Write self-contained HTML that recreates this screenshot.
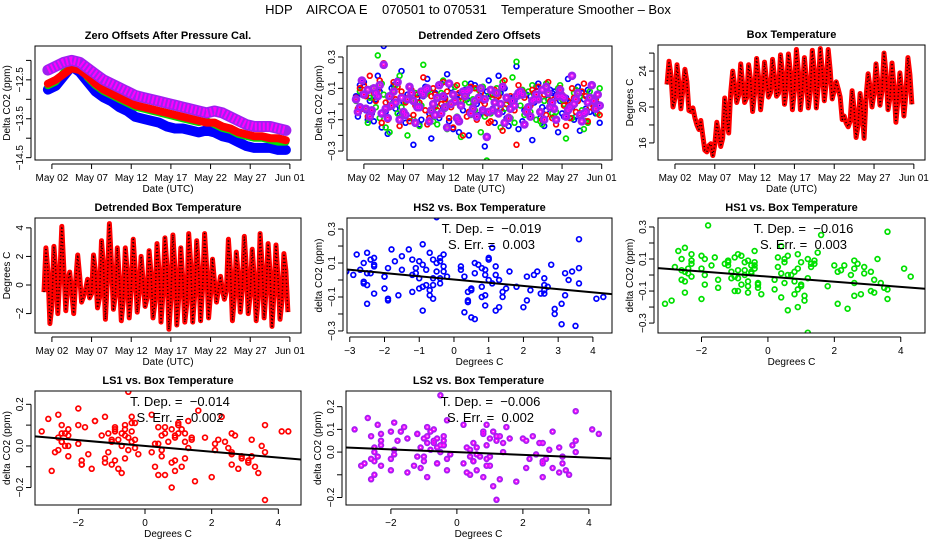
<!DOCTYPE html>
<html><head><meta charset="utf-8">
<style>
html,body{margin:0;padding:0;background:#fff;}
svg{display:block;font-family:"Liberation Sans",sans-serif;}
</style></head>
<body>
<svg id="chart" width="936" height="540" viewBox="0 0 936 540">
<rect x="0" y="0" width="936" height="540" fill="#fff"/>
<text x="468" y="14" text-anchor="middle" font-size="13" style="white-space:pre">HDP    AIRCOA E    070501 to 070531    Temperature Smoother – Box</text>
</svg>
<script>
// ---- data (sampled every 6 h from May 01 00:00 UTC) ----
const dateTickLabels = ["May 02","May 07","May 12","May 17","May 22","May 27","Jun 01"];
const dateTickDays = [1,6,11,16,21,26,31];
const dayMid = [0.5,1.5,2.5,3.5,4.5,5.5,6.5,7.5,8.5,9.5,10.5,11.5,12.5,13.5,14.5,15.5,16.5,17.5,18.5,19.5,20.5,21.5,22.5,23.5,24.5,25.5,26.5,27.5,28.5,29.5,30.5];
const zeroLS2 = [-12.25,-12.15,-12.05,-12.0,-12.05,-12.2,-12.35,-12.5,-12.6,-12.7,-12.8,-12.9,-12.95,-13.0,-13.05,-13.1,-13.15,-13.2,-13.25,-13.3,-13.35,-13.3,-13.35,-13.45,-13.55,-13.65,-13.7,-13.7,-13.7,-13.75,-13.8];
const zeroLS1 = [-12.6,-12.5,-12.35,-12.2,-12.25,-12.4,-12.6,-12.75,-12.85,-12.95,-13.05,-13.15,-13.2,-13.25,-13.3,-13.35,-13.4,-13.45,-13.5,-13.55,-13.6,-13.6,-13.7,-13.75,-13.85,-13.9,-13.95,-13.95,-14.0,-14.0,-14.05];
const zeroHS1 = [-12.65,-12.55,-12.3,-12.05,-12.15,-12.45,-12.65,-12.8,-12.9,-13.0,-13.1,-13.2,-13.25,-13.3,-13.35,-13.4,-13.45,-13.5,-13.55,-13.6,-13.55,-13.65,-13.75,-13.8,-13.9,-13.95,-14.0,-14.0,-14.05,-14.1,-14.1];
const zeroHS2 = [-12.75,-12.65,-12.4,-12.15,-12.3,-12.55,-12.8,-12.95,-13.05,-13.2,-13.3,-13.45,-13.5,-13.55,-13.6,-13.7,-13.75,-13.75,-13.8,-13.85,-13.8,-13.85,-13.95,-14.0,-14.1,-14.2,-14.25,-14.25,-14.25,-14.3,-14.3];
const boxTemp = [22.5,25.1,23.5,20.0, 21.0,24.7,22.6,19.8, 22.0,24.2,22.8,19.6, 19.5,19.9,18.8,18.0,
 17.5,18.5,16.8,15.2, 15.0,15.7,15.9,14.6, 15.8,18.3,16.9,15.6, 16.5,21.0,18.8,17.1,
 21.6,24.0,22.4,20.5, 21.3,24.8,22.6,20.5, 21.0,24.7,23.0,19.5, 21.5,25.4,23.3,19.7,
 21.8,25.0,23.0,21.1, 21.6,25.3,23.4,21.2, 21.5,25.8,23.8,20.3, 21.9,25.9,23.9,19.7,
 21.8,26.4,24.0,19.7, 21.9,25.5,23.0,19.9, 21.6,26.3,24.1,19.9, 22.3,26.5,24.0,20.7,
 22.8,26.4,24.1,20.9, 21.8,22.8,22.0,21.1, 18.6,19.0,18.2,17.8, 18.4,21.8,19.8,16.6,
 18.0,21.5,19.6,16.5, 21.2,23.7,22.2,20.0, 21.5,24.8,22.6,20.2, 21.8,26.0,23.8,19.7,
 21.0,24.9,22.4,18.3, 20.8,23.8,21.6,19.0, 21.4,25.5,23.6,20.3];
const detTemp = [-0.5,2.6,1.0,-2.7, -1.5,2.7,0.8,-2.0, 0.5,4.1,1.2,-1.8, 0.2,0.9,-0.5,-2.0,
 0.3,2.1,0.6,-1.2, -0.8,-0.3,0.4,-0.9, -0.6,2.1,0.9,-1.6, -0.9,3.1,1.3,-2.4,
 0.4,4.3,1.6,-1.7, -0.7,2.6,0.5,-2.5, -1.1,2.6,0.9,-2.3, -0.4,3.2,1.1,-1.9,
 -0.5,2.0,0.3,-1.5, -0.9,2.4,0.8,-2.3, -1.2,2.9,1.0,-2.6, -0.6,3.3,1.4,-3.1,
 -1.0,3.5,1.2,-2.8, -0.8,2.6,0.4,-2.6, -1.3,3.6,1.5,-2.6, -0.7,3.1,0.9,-2.5,
 -0.2,3.6,1.3,-2.3, -0.6,1.8,0.2,-1.2, -0.3,0.6,-0.4,-1.0, -0.4,3.2,1.1,-2.5,
 -0.9,2.3,0.7,-1.9, -0.3,3.4,1.2,-2.0, -0.7,2.5,0.6,-2.5, -1.0,3.6,1.4,-2.3,
 -0.4,2.9,0.8,-2.9, -0.6,2.8,0.5,-2.4, -1.1,2.2,1.0,-1.9];
const hs2 = [0.05,-0.08,0.12,0.06, 0.14,-0.04,-0.10,0.02, -0.06,-0.11,0.03,0.18, 0.08,-0.15,0.37,-0.05,
 -0.19,0.02,0.10,0.12, -0.03,0.15,-0.07,0.21, 0.01,-0.12,0.06,-0.09, 0.09,-0.26,0.00,0.04,
 -0.13,-0.10,0.05,0.11, 0.16,-0.06,-0.22,-0.03, 0.07,0.01,-0.09,0.13, -0.02,0.04,0.19,-0.11,
 0.10,-0.16,0.02,0.06, -0.18,0.05,-0.04,0.09, 0.03,-0.20,0.13,-0.01, 0.12,0.00,-0.07,0.05,
 -0.05,-0.27,0.08,0.15, 0.06,-0.03,-0.12,-0.02, 0.18,0.07,-0.05,0.10, -0.09,-0.14,0.03,0.04,
 0.02,0.24,-0.16,0.08, -0.11,-0.04,0.06,-0.07, 0.05,-0.23,0.01,0.11, 0.13,-0.09,-0.02,-0.14,
 -0.04,0.03,0.09,0.07, 0.08,0.05,-0.18,0.02, -0.06,-0.08,0.04,0.16, 0.01,-0.02,-0.10,-0.08,
 0.11,-0.17,0.07,0.03, -0.03,0.09,-0.05,0.12, 0.04,-0.06,0.00,-0.12];
const hs1 = [0.02,-0.05,0.08,0.15, -0.03,0.07,-0.12,0.04, 0.10,0.04,-0.02,0.31, -0.09,0.13,0.06,-0.15,
 0.05,-0.18,0.00,0.09, 0.12,-0.06,0.18,-0.02, -0.07,0.02,-0.20,0.11, 0.03,-0.10,0.07,0.01,
 -0.14,-0.01,0.25,0.06, 0.08,0.09,-0.05,-0.11, -0.02,-0.13,0.04,0.07, 0.15,-0.03,-0.16,0.00,
 0.01,0.06,0.11,-0.08, -0.10,-0.21,0.02,0.13, 0.06,0.01,-0.07,0.03, -0.04,0.10,0.09,-0.18,
 0.11,-0.08,-0.36,0.05, -0.06,0.04,0.01,0.10, 0.07,-0.15,0.14,-0.03, 0.00,0.02,-0.09,0.17,
 -0.12,0.27,0.05,-0.01, 0.09,-0.07,-0.03,0.08, -0.05,0.12,0.06,-0.10, 0.04,-0.11,-0.13,0.02,
 0.13,0.06,0.00,-0.06, -0.08,-0.05,0.10,0.12, 0.03,0.00,-0.22,-0.04, -0.01,-0.09,0.07,0.09,
 0.08,0.05,-0.04,-0.16, -0.11,-0.12,0.08,0.04, 0.02,0.03,-0.06,0.10];
const ls1 = [0.04,-0.03,0.10,-0.03, 0.12,0.05,-0.08,0.18, -0.05,0.07,0.02,0.09, 0.15,-0.12,0.26,0.01,
 -0.10,-0.02,0.06,0.14, 0.03,0.11,-0.14,0.08, -0.06,0.01,0.04,-0.11, 0.09,-0.07,-0.01,0.06,
 0.01,0.07,0.17,-0.04, -0.13,-0.09,0.05,0.10, 0.06,-0.04,-0.07,0.00, 0.14,0.03,0.08,-0.09,
 -0.02,-0.15,0.01,0.12, 0.07,0.02,-0.20,0.05, -0.08,-0.05,0.11,-0.02, 0.10,-0.10,0.03,0.07,
 0.02,0.00,-0.06,-0.12, -0.11,0.06,0.09,0.04, 0.05,-0.03,-0.17,0.15, 0.00,-0.08,0.05,0.02,
 -0.04,-0.26,0.12,0.08, 0.08,0.04,-0.03,-0.06, -0.01,0.09,0.07,0.03, 0.11,-0.05,-0.10,0.06,
 -0.07,0.14,0.02,-0.09, 0.03,-0.13,0.06,0.10, 0.06,-0.01,-0.14,0.02, -0.09,0.10,0.04,-0.05,
 0.02,-0.06,0.08,0.13, 0.05,-0.11,-0.02,0.00, -0.03,0.03,0.06,-0.07];
const ls2 = [0.03,-0.05,-0.02,0.15, 0.06,-0.03,0.09,-0.08, -0.04,0.10,0.07,0.05, 0.12,-0.06,0.25,-0.03,
 -0.09,0.05,-0.01,0.08, 0.01,0.14,-0.10,0.04, -0.05,-0.07,0.03,0.11, 0.07,0.02,-0.12,-0.02,
 -0.02,0.08,0.06,0.09, 0.10,-0.11,-0.04,0.00, -0.07,0.04,0.12,-0.06, 0.05,-0.02,-0.15,0.13,
 0.00,0.06,0.02,-0.09, -0.11,-0.01,0.08,0.05, 0.08,0.09,-0.06,-0.03, 0.02,-0.08,0.04,0.10,
 -0.04,0.03,-0.21,-0.05, 0.09,-0.04,0.01,0.07, -0.06,0.00,0.11,-0.12, 0.04,-0.09,-0.03,0.02,
 -0.01,0.05,0.07,0.08, 0.06,-0.13,-0.05,-0.02, -0.08,0.02,0.03,0.06, 0.03,-0.05,0.09,-0.10,
 0.11,0.07,-0.02,0.01, -0.03,-0.10,0.05,0.09, 0.05,0.04,-0.08,-0.04, -0.02,0.18,0.00,0.03,
 0.07,-0.07,-0.11,-0.06, -0.05,0.01,0.04,0.12, 0.02,-0.03,0.06,-0.01];
const fitSlopes = [-0.019,-0.016,-0.014,-0.006];
const fitIntercepts = [0.003,-0.010,0.000,0.000];
const fitErrors = ["0.003","0.003","0.002","0.002"];

const C_HS2="#0000ff", C_HS1="#00e000", C_LS1="#ff0000", C_LS2="#a020f0";
const svg=document.getElementById('chart');
const NS="http://www.w3.org/2000/svg";
function mk(tag,attrs,parent){const e=document.createElementNS(NS,tag);for(const k in attrs)e.setAttribute(k,attrs[k]);(parent||svg).appendChild(e);return e;}
function sampleTime(i){return i/4;}

function panel(p){
  const g=mk('g',{});
  
  
  p.sx=v=>p.L+(v-p.x0)/(p.x1-p.x0)*(p.R-p.L);
  p.sy=v=>p.B-(v-p.y0)/(p.y1-p.y0)*(p.B-p.T);
  p.g=g;
  const cp=mk('clipPath',{id:'clip-'+p.name},g);
  mk('rect',{x:p.L,y:p.T,width:p.R-p.L,height:p.B-p.T},cp);
  p.plot=mk('g',{'clip-path':'url(#clip-'+p.name+')'},g);
  return p;
}
function axes(p){
  const g=p.g;
  const box=mk('rect',{x:p.L,y:p.T,width:p.R-p.L,height:p.B-p.T,fill:'none',stroke:'#000','stroke-width':1},g);
  
  
  const t=mk('text',{x:(p.L+p.R)/2,y:p.T-7,'text-anchor':'middle','font-size':11,'font-weight':'bold'},g);
  t.textContent=p.title;
  
  
  const xa=mk('g',{},g);
  
  
  const xs=p.xticks.map(p.sx);
  mk('line',{x1:xs[0],x2:xs[xs.length-1],y1:p.B+4,y2:p.B+4,stroke:'#000'},xa);
  p.xticks.forEach((v,i)=>{const x=p.sx(v);
    mk('line',{x1:x,x2:x,y1:p.B+4,y2:p.B+9,stroke:'#000'},xa);
    if(p.xlabels[i]!==''){const tx=mk('text',{x:x,y:p.B+21,'text-anchor':'middle','font-size':10},xa);tx.textContent=p.xlabels[i];
      
      }
  });
  const xt=mk('text',{x:(p.L+p.R)/2,y:p.B+32,'text-anchor':'middle','font-size':10},xa);
  xt.textContent=p.xtitle;
  
  
  const ya=mk('g',{},g);
  
  
  const ys=p.yticks.map(p.sy);
  mk('line',{x1:p.L-4,x2:p.L-4,y1:ys[0],y2:ys[ys.length-1],stroke:'#000'},ya);
  p.yticks.forEach((v,i)=>{const y=p.sy(v);
    mk('line',{x1:p.L-9,x2:p.L-4,y1:y,y2:y,stroke:'#000'},ya);
    if(p.ylabels[i]!==''){const tx=mk('text',{x:0,y:0,'text-anchor':'middle','font-size':10,transform:`translate(${p.L-12},${y}) rotate(-90)`},ya);tx.textContent=p.ylabels[i];
      
      }
  });
  const yt=mk('text',{x:0,y:0,'text-anchor':'middle','font-size':10,transform:`translate(${p.L-25},${(p.T+p.B)/2}) rotate(-90)`},ya);
  yt.textContent=p.ytitle;
  
  
}
function dots(p,xsArr,ysArr,col,name,r,sw){
  const g=mk('g',{},p.plot);
  
  
  for(let i=0;i<ysArr.length;i++){
    mk('circle',{cx:p.sx(xsArr[i]).toFixed(1),cy:p.sy(ysArr[i]).toFixed(1),r:r||2.4,fill:'none',stroke:col,'stroke-width':sw||1.7},g);
  }
  return g;
}
function tline(p,ysArr,col,name,w,dash){
  const pts=ysArr.map((v,i)=>p.sx(sampleTime(i)).toFixed(1)+','+p.sy(v).toFixed(1)).join(' ');
  const l=mk('polyline',{points:pts,fill:'none',stroke:col,'stroke-width':w,'stroke-linejoin':'round'},p.plot);
  if(dash)l.setAttribute('stroke-dasharray',dash);
  
  
}
const times=detTemp.map((v,i)=>sampleTime(i));

// Panel 1
const p1=panel({name:'zero-offsets-panel',L:35,R:301,T:46,B:160,x0:-1.13,x1:32.4,y0:-14.56,y1:-11.63,
 title:'Zero Offsets After Pressure Cal.',xtitle:'Date (UTC)',ytitle:'Delta CO2 (ppm)',
 xticks:dateTickDays,xlabels:dateTickLabels,yticks:[-12,-12.5,-13,-13.5,-14,-14.5],ylabels:['','\u221212.5','','\u221213.5','','\u221214.5']});
[[zeroHS2,C_HS2,'zero-hs2',10],[zeroHS1,C_HS1,'zero-hs1',7],[zeroLS1,C_LS1,'zero-ls1',8],[zeroLS2,C_LS2,'zero-ls2',11]].forEach(s=>{
  const pts=s[0].map((v,i)=>p1.sx(dayMid[i]).toFixed(1)+','+p1.sy(v).toFixed(1)).join(' ');
  const l=mk('polyline',{points:pts,fill:'none',stroke:s[1],'stroke-width':s[3],'stroke-linejoin':'round','stroke-linecap':'round'},p1.plot);
  
  
  if(s[2]==='zero-ls2'){const l2=mk('polyline',{points:pts,fill:'none',stroke:'#ff00ff','stroke-width':s[3]-3,'stroke-dasharray':'2 2','stroke-linejoin':'round'},p1.plot);
    
    }
});
axes(p1);

// Panel 2
const p2=panel({name:'detrended-zero-offsets-panel',L:347,R:612,T:46,B:160,x0:-1.13,x1:32.3,y0:-0.357,y1:0.37,
 title:'Detrended Zero Offsets',xtitle:'Date (UTC)',ytitle:'Delta CO2 (ppm)',
 xticks:dateTickDays,xlabels:dateTickLabels,yticks:[-0.3,-0.2,-0.1,0,0.1,0.2,0.3],ylabels:['\u22120.3','','\u22120.1','','0.1','','0.3']});
dots(p2,times,hs2,C_HS2,'hs2-points');
dots(p2,times,hs1,C_HS1,'hs1-points');
dots(p2,times,ls1,C_LS1,'ls1-points');
dots(p2,times,ls2,C_LS2,'ls2-points',3,2.6);
dots(p2,times,ls2,'#ff00ff','ls2-points-inner',1.2,1);
axes(p2);

// Panel 3
const p3=panel({name:'box-temperature-panel',L:658,R:925,T:45,B:160,x0:-1.13,x1:32.4,y0:14.1,y1:26.9,
 title:'Box Temperature',xtitle:'Date (UTC)',ytitle:'Degrees C',
 xticks:dateTickDays,xlabels:dateTickLabels,yticks:[16,18,20,22,24,26],ylabels:['16','','20','','24','']});
tline(p3,boxTemp,'#ff0000','box-temperature-line',5);
tline(p3,boxTemp,'#000','box-temperature-dots',1.5,'1 2.5');
axes(p3);

// Panel 4
const p4=panel({name:'detrended-box-temperature-panel',L:35,R:301,T:218,B:333,x0:-1.13,x1:32.4,y0:-3.36,y1:4.69,
 title:'Detrended Box Temperature',xtitle:'Date (UTC)',ytitle:'Degrees C',
 xticks:dateTickDays,xlabels:dateTickLabels,yticks:[-2,0,2,4],ylabels:['\u22122','0','2','4']});
tline(p4,detTemp,'#ff0000','detrended-temperature-line',5);
tline(p4,detTemp,'#000','detrended-temperature-dots',1.5,'1 2.5');
axes(p4);

// Scatter panels
const scat=[
 {name:'hs2-vs-temp-panel',title:'HS2 vs. Box Temperature',L:347,R:612,T:218,B:333,x0:-3.08,x1:4.55,y0:-0.312,y1:0.365,
  xticks:[-3,-2,-1,0,1,2,3,4],xlabels:['\u22123','\u22122','\u22121','0','1','2','3','4'],
  yticks:[-0.3,-0.2,-0.1,0,0.1,0.2,0.3],ylabels:['\u22120.3','','\u22120.1','','0.1','','0.3'],data:hs2,col:C_HS2,k:0},
 {name:'hs1-vs-temp-panel',title:'HS1 vs. Box Temperature',L:658,R:925,T:218,B:333,x0:-3.31,x1:4.73,y0:-0.362,y1:0.356,
  xticks:[-2,0,2,4],xlabels:['\u22122','0','2','4'],
  yticks:[-0.3,-0.2,-0.1,0,0.1,0.2,0.3],ylabels:['\u22120.3','','\u22120.1','','0.1','','0.3'],data:hs1,col:C_HS1,k:1},
 {name:'ls1-vs-temp-panel',title:'LS1 vs. Box Temperature',L:35,R:301,T:391,B:505,x0:-3.3,x1:4.68,y0:-0.284,y1:0.264,
  xticks:[-2,0,2,4],xlabels:['\u22122','0','2','4'],
  yticks:[-0.2,-0.1,0,0.1,0.2],ylabels:['\u22120.2','','0.0','','0.2'],data:ls1,col:C_LS1,k:2},
 {name:'ls2-vs-temp-panel',title:'LS2 vs. Box Temperature',L:346,R:611,T:391,B:505,x0:-3.36,x1:4.67,y0:-0.233,y1:0.269,
  xticks:[-2,0,2,4],xlabels:['\u22122','0','2','4'],
  yticks:[-0.2,-0.1,0,0.1,0.2],ylabels:['\u22120.2','','0.0','0.1','0.2'],data:ls2,col:C_LS2,k:3}
];
scat.forEach(c=>{
  c.xtitle='Degrees C';c.ytitle='delta CO2 (ppm)';
  const p=panel(c);
  dots(p,detTemp,c.data,c.col,'scatter-points');
  if(c.col===C_LS2){dots(p,detTemp,c.data,'#ff00ff','scatter-points-inner',1.2,1);}
  const a=fitSlopes[c.k],b=fitIntercepts[c.k];
  const fl=mk('line',{x1:p.sx(c.x0),y1:p.sy(a*c.x0+b),x2:p.sx(c.x1),y2:p.sy(a*c.x1+b),stroke:'#000','stroke-width':2},p.plot);
  
  
  const cx=(c.L+c.R)/2+12;
  const t1=mk('text',{x:cx,y:c.T+15,'text-anchor':'middle','font-size':13,style:'white-space:pre'},p.g);
  t1.textContent='T. Dep. =  \u2212'+Math.abs(a).toFixed(3);
  
  
  const t2=mk('text',{x:cx,y:c.T+31,'text-anchor':'middle','font-size':13,style:'white-space:pre'},p.g);
  t2.textContent='S. Err. =  '+fitErrors[c.k];
  
  
  axes(p);
});
</script>
</body></html>
